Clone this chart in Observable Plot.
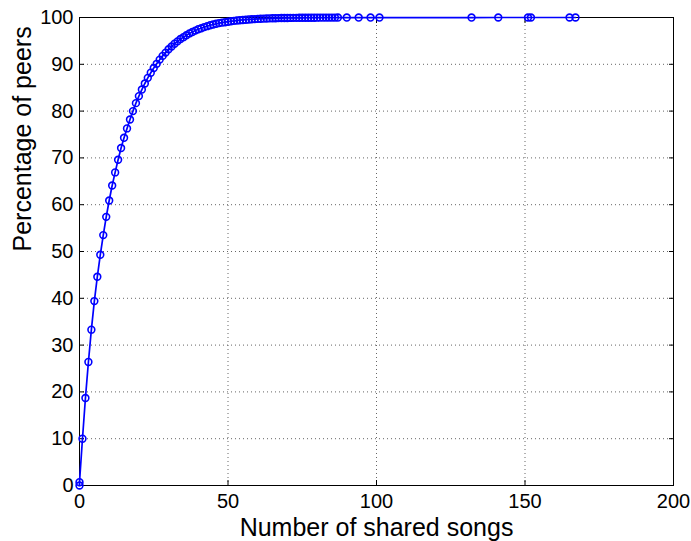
<!DOCTYPE html>
<html>
<head>
<meta charset="utf-8">
<script src="https://cdn.jsdelivr.net/npm/d3@7"></script>
<script src="https://cdn.jsdelivr.net/npm/@observablehq/plot@0.6"></script>
<style>
  html, body { margin: 0; padding: 0; background: #fff; }
  #chart svg { display: block; }
</style>
</head>
<body>
<div id="chart"></div>
<script>
// Number of shared songs (x) and cumulative percentage of peers (y)
const sharedSongs = [
  0, 0, 1, 2, 3, 4, 5, 6, 7, 8, 9, 10, 11, 12, 13, 14, 15, 16, 17, 18, 19,
  20, 21, 22, 23, 24, 25, 26, 27, 28, 29, 30, 31, 32, 33, 34, 35, 36, 37, 38, 39,
  40, 41, 42, 43, 44, 45, 46, 47, 48, 49, 50, 51, 52, 53, 54, 55, 56, 57, 58, 59,
  60, 61, 62, 63, 64, 65, 66, 67, 68, 69, 70, 71, 72, 73, 74, 75, 76, 77, 78, 79,
  80, 81, 82, 83, 84, 85, 86, 87, 90, 94, 98, 101, 132, 141, 151, 152, 165, 167
];
const percentPeers = [
  0, 0.7, 10.0, 18.7, 26.4, 33.3, 39.4, 44.6, 49.3, 53.5, 57.4, 60.9, 64.1, 66.9, 69.6, 72.1, 74.3, 76.3, 78.2, 80.0, 81.7,
  83.2, 84.6, 85.9, 87.1, 88.2, 89.2, 90.1, 91.0, 91.8, 92.5, 93.2, 93.8, 94.4, 94.9, 95.4, 95.8, 96.2, 96.6, 96.9, 97.2,
  97.5, 97.7, 97.95, 98.15, 98.35, 98.5, 98.65, 98.8, 98.9, 99.0, 99.1, 99.2, 99.28, 99.35, 99.42, 99.48, 99.53, 99.58, 99.62, 99.66,
  99.7, 99.73, 99.76, 99.79, 99.81, 99.83, 99.85, 99.87, 99.88, 99.89, 99.9, 99.91, 99.92, 99.93, 99.935, 99.94, 99.945, 99.95, 99.955, 99.96,
  99.965, 99.97, 99.972, 99.975, 99.977, 99.98, 99.982, 99.984, 99.986, 99.988, 99.99, 99.992, 99.994, 99.995, 99.996, 99.997, 99.999, 100
];
const xTicks = [0, 50, 100, 150, 200];
const yTicks = [0, 10, 20, 30, 40, 50, 60, 70, 80, 90, 100];
const xTitle = "Number of shared songs";
const yTitle = "Percentage of peers";

const data = sharedSongs.map((s, i) => ({s, p: percentPeers[i]}));

const font = "'Liberation Sans', Arial, Helvetica, sans-serif";
const blue = "#0000ff";
const gridStyle = {stroke: "#666", strokeOpacity: 1, strokeDasharray: "1,3", strokeWidth: 1};

const chart = Plot.plot({
  width: 691,
  height: 541,
  marginLeft: 79,
  marginRight: 18,
  marginTop: 17,
  marginBottom: 56,
  style: {fontFamily: font, fontSize: "20px", color: "#000", background: "#fff"},
  x: {domain: [0, 200], label: null},
  y: {domain: [0, 100], label: null},
  marks: [
    Plot.gridX(xTicks, gridStyle),
    Plot.gridY(yTicks, gridStyle),
    Plot.frame({stroke: "#000", strokeWidth: 1}),
    // inward ticks on all four sides
    Plot.axisX({ticks: xTicks, anchor: "bottom", tickSize: -5, tickFormat: () => "", stroke: "#000"}),
    Plot.axisX({ticks: xTicks, anchor: "top", tickSize: -5, tickFormat: () => "", stroke: "#000"}),
    Plot.axisY({ticks: yTicks, anchor: "left", tickSize: -5, tickFormat: () => "", stroke: "#000"}),
    Plot.axisY({ticks: yTicks, anchor: "right", tickSize: -5, tickFormat: () => "", stroke: "#000"}),
    // tick labels
    Plot.axisX({ticks: xTicks, anchor: "bottom", tickSize: 0, tickPadding: 8, fontSize: 20, label: null}),
    Plot.axisY({ticks: yTicks, anchor: "left", tickSize: 0, tickPadding: 6, fontSize: 20, label: null}),
    // axis titles
    Plot.text([xTitle], {frameAnchor: "bottom", dy: 42, fontSize: 25, text: d => d, fill: "#000", lineAnchor: "middle"}),
    Plot.text([yTitle], {frameAnchor: "left", dx: -57, rotate: -90, fontSize: 25, text: d => d, fill: "#000", lineAnchor: "middle"}),
    // data
    Plot.line(data, {x: "s", y: "p", stroke: blue, strokeWidth: 1.7}),
    Plot.dot(data, {x: "s", y: "p", r: 3.4, stroke: blue, fill: "none", strokeWidth: 1.6})
  ]
});
document.getElementById("chart").appendChild(chart);
</script>
</body>
</html>
